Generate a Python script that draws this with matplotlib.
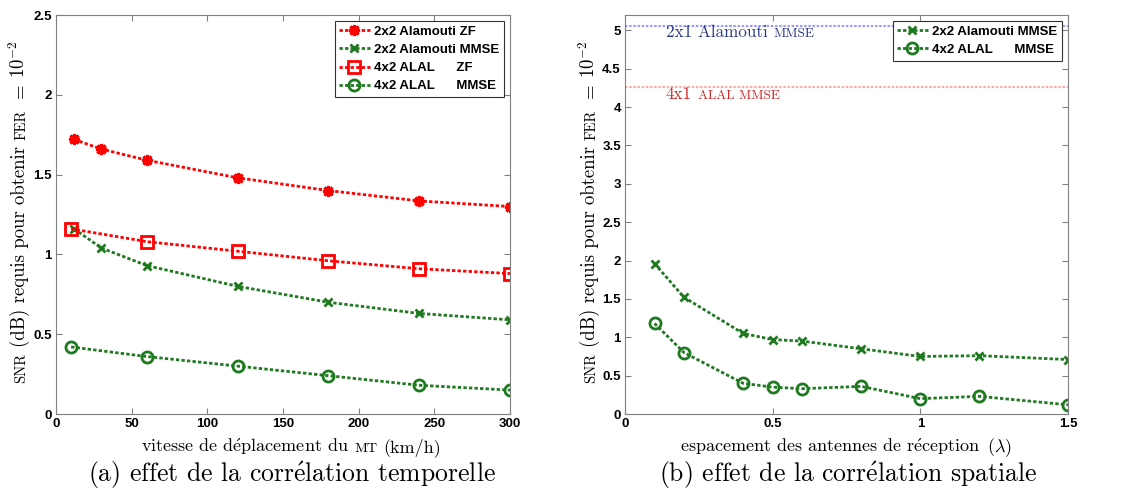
import numpy as np
import matplotlib
matplotlib.use('Agg')
import matplotlib.pyplot as plt
from matplotlib.ticker import MultipleLocator, FuncFormatter
from matplotlib.transforms import IdentityTransform

# (a) temporal correlation, speed in km/h
v_star = [12, 30, 60, 120, 180, 240, 300]
ala_zf = [1.72, 1.66, 1.59, 1.48, 1.40, 1.335, 1.30]
v_x = [12, 30, 60, 120, 180, 240, 300]
ala_mmse = [1.16, 1.04, 0.93, 0.80, 0.70, 0.63, 0.59]
v_sq = [10, 60, 120, 180, 240, 300]
alal_zf = [1.16, 1.08, 1.02, 0.96, 0.91, 0.88]
alal_mmse = [0.42, 0.36, 0.30, 0.24, 0.18, 0.15]

# (b) spatial correlation, antenna spacing in lambda
d = [0.1, 0.2, 0.4, 0.5, 0.6, 0.8, 1.0, 1.2, 1.5]
sp_ala = [1.96, 1.52, 1.05, 0.97, 0.95, 0.85, 0.75, 0.76, 0.71]
sp_alal = [1.18, 0.80, 0.40, 0.35, 0.33, 0.36, 0.20, 0.23, 0.12]
ref_ala_2x1 = 5.06
ref_alal_4x1 = 4.26

labels_a = ['2x2 Alamouti ZF', '2x2 Alamouti MMSE', '4x2 ALAL      ZF', '4x2 ALAL      MMSE']
labels_b = ['2x2 Alamouti MMSE', '4x2 ALAL      MMSE']

RED = '#ff0000'
GREEN = '#1e7a1e'
SERIF = ['cmr10', 'DejaVu Serif']
SANS = 'Liberation Sans'
E = r'$\acute{\mathrm{e}}$'  # cmr10 has no precomposed accents

plt.rcParams['mathtext.fontset'] = 'cm'
plt.rcParams['axes.unicode_minus'] = False

fig = plt.figure(figsize=(11.46, 4.90), dpi=100)
ax1 = fig.add_axes([56/1146, 1-414/490, 454/1146, 399/490])
ax2 = fig.add_axes([625/1146, 1-414/490, 443/1146, 399/490])
renderer = fig.canvas.get_renderer()


def rich(x, y, parts, size, rotation=0, color='k', center=True):
	# parts: (text, smallcaps?) joined by spaces, in display pixels
	ts = []
	for s, sc in parts:
		fs = size*0.78 if sc else size
		t = fig.text(0, 0, s, fontsize=fs, family=SERIF, color=color, rotation=rotation,
			rotation_mode='anchor', ha='left', va='baseline', transform=IdentityTransform())
		ts.append(t)
	a = fig.text(0, 0, 'a a', fontsize=size, family=SERIF)
	b = fig.text(0, 0, 'aa', fontsize=size, family=SERIF)
	gap = a.get_window_extent(renderer).width - b.get_window_extent(renderer).width
	a.remove(); b.remove()
	lens = []
	for t in ts:
		bb = t.get_window_extent(renderer)
		lens.append(bb.height if rotation else bb.width)
	total = sum(lens) + gap*(len(ts)-1)
	pos = -total/2 if center else 0
	for t, L in zip(ts, lens):
		if rotation:
			t.set_position((x, y + pos))
		else:
			t.set_position((x + pos, y))
		pos += L + gap


def style(ax):
	for s in ax.spines.values():
		s.set_color('#808080')
		s.set_linewidth(0.8)
	ax.tick_params(direction='in', top=True, right=True, length=4, color='#808080',
		labelsize=9.5, pad=3)
	fmt = FuncFormatter(lambda v, p: '%g' % v)
	ax.xaxis.set_major_formatter(fmt)
	ax.yaxis.set_major_formatter(fmt)
	for lab in ax.get_xticklabels() + ax.get_yticklabels():
		lab.set_fontweight('bold')
		lab.set_family(SANS)


def legend(ax):
	leg = ax.legend(loc='upper right', prop={'family': SANS, 'weight': 'bold', 'size': 9.5},
		fancybox=False, edgecolor='#333333', framealpha=1, handlelength=2.3,
		borderaxespad=0.45, labelspacing=0.45, borderpad=0.35, handletextpad=0.35)
	leg.get_frame().set_linewidth(0.8)


lw = 2
ls = (0, (1.2, 0.8))
star = (8, 2, 0)
ax1.plot(v_star, ala_zf, color=RED, ls=ls, lw=lw, marker=star, ms=8, mew=2.2, label=labels_a[0])
ax1.plot(v_x, ala_mmse, color=GREEN, ls=ls, lw=lw, marker='x', ms=6, mew=2, label=labels_a[1])
ax1.plot(v_sq, alal_zf, color=RED, ls=ls, lw=lw, marker='s', ms=8, mfc='none', mew=2, label=labels_a[2])
ax1.plot(v_sq, alal_mmse, color=GREEN, ls=ls, lw=lw, marker='o', ms=8, mfc='none', mew=2, label=labels_a[3])
ax1.set_xlim(0, 300)
ax1.set_ylim(0, 2.5)
ax1.xaxis.set_major_locator(MultipleLocator(50))
ax1.yaxis.set_major_locator(MultipleLocator(0.5))
style(ax1)
legend(ax1)

ax2.axhline(ref_ala_2x1, color='#9999ff', ls=ls, lw=1.5)
ax2.axhline(ref_alal_4x1, color='#ffaaaa', ls=ls, lw=1.5)
ax2.plot(d, sp_ala, color=GREEN, ls=ls, lw=lw, marker='x', ms=6, mew=2, label=labels_b[0])
ax2.plot(d, sp_alal, color=GREEN, ls=ls, lw=lw, marker='o', ms=8, mfc='none', mew=2, label=labels_b[1])
ax2.set_xlim(0, 1.5)
ax2.set_ylim(0, 5.2)
ax2.xaxis.set_major_locator(MultipleLocator(0.5))
ax2.yaxis.set_major_locator(MultipleLocator(0.5))
style(ax2)
legend(ax2)

H = 490
ylab = [('SNR', True), ('(dB) requis pour obtenir', False), ('FER', True), ('$=$', False), ('$10^{-2}$', False)]
rich(25, H-212, ylab, 13.5, rotation=90)
rich(595, H-212, ylab, 13.5, rotation=90)
rich(291, H-452, [('vitesse de d' + E + 'placement du', False), ('MT', True), ('(km/h)', False)], 13)
rich(846, H-452, [('espacement des antennes de r' + E + 'ception', False), ('($\\lambda$)', False)], 13)
rich(292, H-482, [('(a) effet de la corr' + E + 'lation temporelle', False)], 18.5)
rich(848, H-482, [('(b) effet de la corr' + E + 'lation spatiale', False)], 18.5)
rich(666, H-37, [('2x1 Alamouti', False), ('MMSE', True)], 12.3, color='#2b3a84', center=False)
rich(666, H-99, [('4x1', False), ('ALAL MMSE', True)], 12.3, color='#cc2a2a', center=False)

plt.savefig('out.png', dpi=100)
